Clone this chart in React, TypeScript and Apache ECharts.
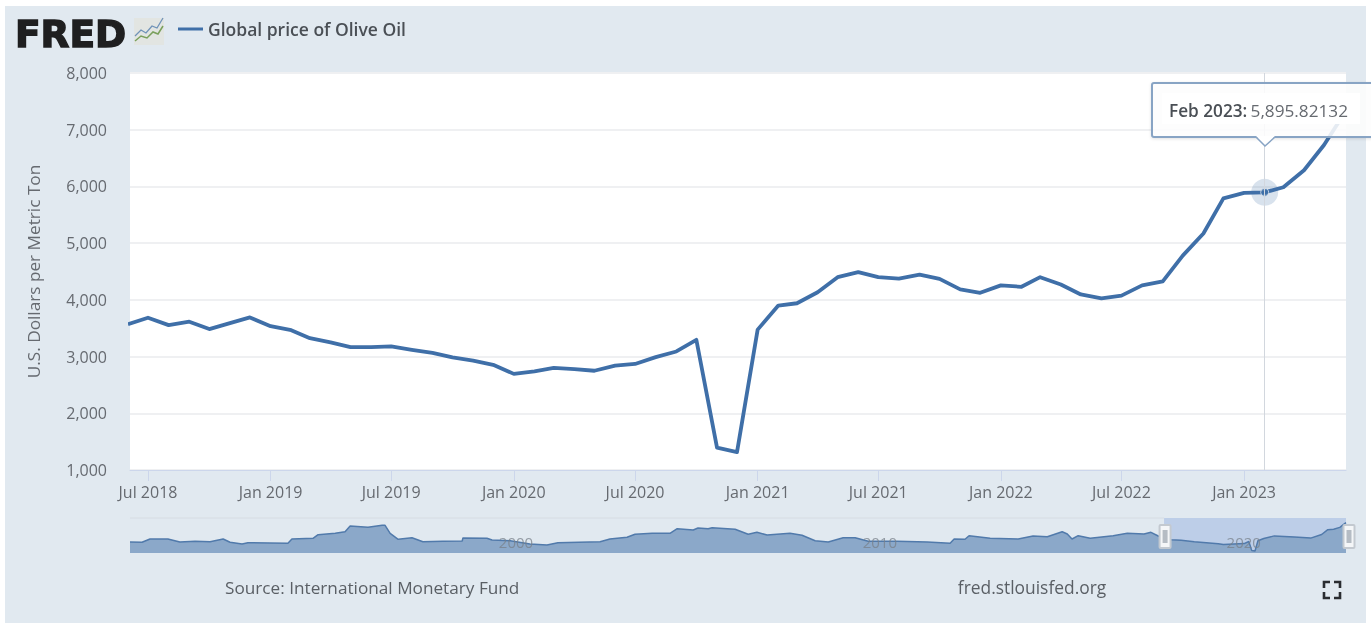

import React, { useEffect, useRef } from "react";
import * as echarts from "echarts";

const SERIES_NAME = "Global price of Olive Oil";
const months = [
  "2018-06","2018-07","2018-08","2018-09","2018-10","2018-11","2018-12",
  "2019-01","2019-02","2019-03","2019-04","2019-05","2019-06","2019-07","2019-08","2019-09","2019-10","2019-11","2019-12",
  "2020-01","2020-02","2020-03","2020-04","2020-05","2020-06","2020-07","2020-08","2020-09","2020-10","2020-11","2020-12",
  "2021-01","2021-02","2021-03","2021-04","2021-05","2021-06","2021-07","2021-08","2021-09","2021-10","2021-11","2021-12",
  "2022-01","2022-02","2022-03","2022-04","2022-05","2022-06","2022-07","2022-08","2022-09","2022-10","2022-11","2022-12",
  "2023-01","2023-02","2023-03","2023-04","2023-05","2023-06",
];
const prices = [
  3570,3685,3555,3615,3485,3590,3690,
  3535,3465,3325,3250,3165,3165,3180,3120,3065,2985,2930,2855,
  2695,2740,2800,2780,2750,2840,2870,2990,3090,3295,1395,1315,
  3475,3900,3940,4135,4400,4490,4400,4375,4445,4370,4185,4125,
  4255,4230,4400,4270,4095,4025,4075,4255,4325,4780,5170,5790,
  5885,5895.82132,5985,6285,6730,7300,
];
const tickDates = ["2018-07","2019-01","2019-07","2020-01","2020-07","2021-01","2021-07","2022-01","2022-07","2023-01"];
const monthNames = ["Jan","Feb","Mar","Apr","May","Jun","Jul","Aug","Sep","Oct","Nov","Dec"];
const viewStart = "2018-06-04";
const viewEnd = "2023-06-03";
const focusMonth = "2023-02";
const focusValue = 5895.82132;

const navYears = [
  1990,1990.33,1990.55,1991.04,1991.37,1991.79,1992.2,1992.56,1992.75,1993.08,1993.24,1994.34,1994.45,1995.03,1995.17,1995.64,1995.91,1996.05,1996.54,1996.93,
  1997.01,1997.15,1997.37,1997.75,1998.05,1998.6,1999.13,1999.15,1999.81,1999.95,2000.45,2000.99,2001.46,2001.76,2002.92,2003.19,2003.66,2003.88,2004.35,2004.84,
  2005.04,2005.48,2005.61,2005.89,2006,2006.63,2006.99,2007.23,2007.51,2008.14,2008.47,2008.83,2009.19,2009.6,2009.93,2010.29,2011.08,2011.91,2012.54,2012.65,
  2012.95,2013.06,2013.64,2014.41,2014.82,2015.21,2015.62,2015.76,2015.89,2016.06,2016.39,2017.02,2017.41,2017.87,2018.06,2018.26,2018.61,2018.89,2019.25,2019.91,
  2020.05,2020.62,2020.75,2020.83,2020.92,2021,2021.16,2021.45,2022,2022.45,2022.75,2022.92,2023.08,2023.25,2023.42,
];
const navPrices = [
  3213,3150,3843,3843,3213,3360,3276,3843,3150,2793,3066,2940,3843,3990,4746,5040,5376,6573,6300,6720,
  6720,5040,3780,4116,3276,3360,3423,4053,3990,3633,3486,2793,2583,3066,3276,3843,4200,4830,5040,5040,
  6006,5733,6153,6006,6216,5880,4830,5250,4683,5040,4620,3486,3213,4116,4116,3360,3360,3213,2940,3843,
  3780,4536,3990,3843,4473,4326,5376,4893,3843,4536,3990,4536,5040,4893,5250,4473,3703,3600,3262,2869,
  2705,2880,3305,1405,1323,3486,3950,4497,4268,4033,4790,5800,5896,6290,7300,
];
const navMin = 1990;
const navMax = 2023.42;
const selection = [2018.42, 2023.42];

const ts = (s: string) => {
  const p = s.split("-").map(Number);
  return Date.UTC(p[0], p[1] - 1, p[2] || 1);
};
const fmt = (v: number) => v.toLocaleString("en-US");
const FONT = "'Open Sans', sans-serif";

export default function App() {
  const ref = useRef<HTMLDivElement>(null);
  useEffect(() => {
    document.body.style.margin = "0";
    const chart = echarts.init(ref.current!, undefined, { renderer: "svg" });
    const option: any = {
      animation: false,
      backgroundColor: "transparent",
      textStyle: { fontFamily: FONT },
      legend: {
        data: [SERIES_NAME], left: 173, top: 15, icon: "rect", itemWidth: 25, itemHeight: 3, itemGap: 5,
        textStyle: { fontFamily: FONT, fontSize: 17.5, fontWeight: 600, color: "#4a4f55" },
      },
      grid: [
        { left: 130, right: 25, top: 73, height: 397, show: true, backgroundColor: "#ffffff", borderWidth: 0 },
        { left: 130, right: 25, top: 518, height: 35, show: false },
      ],
      xAxis: [
        {
          type: "value", gridIndex: 0, min: ts(viewStart), max: ts(viewEnd),
          axisLine: { show: true, lineStyle: { color: "#ccd6eb", width: 1 } },
          axisTick: { show: true, length: 11, lineStyle: { color: "#ccd6eb" }, customValues: tickDates.map(ts) },
          axisLabel: {
            customValues: tickDates.map(ts), margin: 14, fontSize: 16, color: "#666a70", fontFamily: FONT,
            formatter: (v: number) => { const d = new Date(v); return monthNames[d.getUTCMonth()] + " " + d.getUTCFullYear(); },
          },
          splitLine: { show: false },
        },
        {
          type: "value", gridIndex: 1, min: navMin, max: navMax, interval: 10, z: 5,
          axisLine: { show: false }, axisTick: { show: false }, splitLine: { show: false },
          axisLabel: {
            inside: true, margin: 4, fontSize: 15, color: "rgba(120,128,138,0.75)", align: "left", padding: [0, 0, 0, 5],
            showMinLabel: false, showMaxLabel: false, formatter: (v: number) => String(v), fontFamily: FONT,
          },
        },
      ],
      yAxis: [
        {
          type: "value", gridIndex: 0, min: 1000, max: 8000, interval: 1000,
          name: "U.S. Dollars per Metric Ton", nameLocation: "middle", nameGap: 88,
          nameTextStyle: { fontSize: 17.2, color: "#666a70", fontFamily: FONT },
          axisLine: { show: false }, axisTick: { show: false },
          axisLabel: { margin: 23, fontSize: 16, color: "#666a70", fontFamily: FONT, formatter: (v: number) => fmt(v) },
          splitLine: { show: true, lineStyle: { color: "#eff0f2", width: 2 } },
        },
        { type: "value", gridIndex: 1, min: 903, max: 8253, show: false, splitLine: { show: false } },
      ],
      series: [
        {
          name: SERIES_NAME, type: "line", xAxisIndex: 0, yAxisIndex: 0, showSymbol: false, z: 3,
          data: months.map((m, i) => [ts(m), prices[i]]),
          lineStyle: { color: "#3f6fa8", width: 3.8, join: "round" }, itemStyle: { color: "#3f6fa8" },
          markLine: {
            silent: true, symbol: "none", label: { show: false },
            lineStyle: { color: "#d2d7de", width: 1, type: "solid" },
            data: [{ xAxis: ts(focusMonth) }],
          },
        },
        {
          name: "halo", type: "scatter", xAxisIndex: 0, yAxisIndex: 0, symbolSize: 27, z: 2, silent: true,
          data: [[ts(focusMonth), focusValue]],
          itemStyle: { color: "rgba(69,114,167,0.26)" },
        },
        {
          name: "focus", type: "scatter", xAxisIndex: 0, yAxisIndex: 0, symbolSize: 8, z: 4, silent: true,
          data: [[ts(focusMonth), focusValue]],
          itemStyle: { color: "#3f6fa8", borderColor: "#dfe7f0", borderWidth: 1 },
        },
        {
          name: "navigator", type: "line", xAxisIndex: 1, yAxisIndex: 1, showSymbol: false, z: 2, silent: true,
          data: navYears.map((y, i) => [y, navPrices[i]]),
          lineStyle: { color: "#517aab", width: 1.5 },
          areaStyle: { color: "#8ba8c9", opacity: 1 },
          markArea: {
            silent: true, itemStyle: { color: "rgba(96,136,212,0.28)" },
            data: [[{ xAxis: selection[0], yAxis: 903 }, { xAxis: selection[1], yAxis: 8253 }]],
          },
        },
      ],
    };
    chart.setOption(option);

    const handleX = selection.map((y) => chart.convertToPixel({ xAxisIndex: 1 }, y) as number);
    const handle = (cx: number) => ({
      type: "group", z: 50,
      children: [
        { type: "rect", z: 50, shape: { x: cx - 5.5, y: 525, width: 11, height: 23, r: 1 }, style: { fill: "#f4f6f8", stroke: "#c3c9d0", lineWidth: 2 } },
        { type: "rect", z: 51, shape: { x: cx - 2.5, y: 530, width: 5, height: 13 }, style: { fill: "#b5bcc4" } },
      ],
    });
    const corner = (pts: number[][]) => ({ type: "polyline", z: 50, shape: { points: pts }, style: { stroke: "#2a2d31", lineWidth: 2.6, fill: "none" } });
    chart.setOption({
      graphic: [
        { type: "text", z: 50, x: 15, y: 15, style: { text: "FRED", font: "bold 37.5px 'DejaVu Sans'", fill: "#1f1f20", stroke: "#1f1f20", lineWidth: 1.4 } },
        { type: "rect", z: 50, shape: { x: 134, y: 18, width: 30, height: 27 }, style: { fill: "#e2e5e2" } },
        { type: "polyline", z: 51, shape: { points: [[135, 36], [141, 30], [146, 33], [152, 26], [157, 28], [163, 18]] }, style: { stroke: "#6f92b8", lineWidth: 1.3, fill: "none" } },
        { type: "polyline", z: 51, shape: { points: [[135, 41], [141, 36], [147, 38], [153, 32], [158, 34], [163, 26]] }, style: { stroke: "#7aa05c", lineWidth: 1.5, fill: "none" } },
        { type: "line", z: 50, shape: { x1: 130, y1: 518, x2: handleX[0], y2: 518 }, style: { stroke: "#d6dce3", lineWidth: 1 } },
        handle(handleX[0] + 1),
        handle(handleX[1] + 3),
        { type: "text", z: 50, x: 225, y: 587, style: { text: "Source: International Monetary Fund", font: "17.2px 'Open Sans'", fill: "#5a5f65", verticalAlign: "middle" } },
        { type: "text", z: 50, x: 1032, y: 587, style: { text: "fred.stlouisfed.org", font: "17.4px 'Open Sans'", fill: "#5a5f65", align: "center", verticalAlign: "middle" } },
        corner([[1324, 588], [1324, 582], [1330, 582]]),
        corner([[1334, 582], [1340, 582], [1340, 588]]),
        corner([[1324, 592], [1324, 598], [1330, 598]]),
        corner([[1334, 598], [1340, 598], [1340, 592]]),
        { type: "rect", z: 60, shape: { x: 1152, y: 83, width: 230, height: 54, r: 2 }, style: { fill: "rgba(255,255,255,0.86)", stroke: "#88a4c4", lineWidth: 2, shadowBlur: 3, shadowColor: "rgba(0,0,0,0.12)", shadowOffsetY: 1 } },
        { type: "rect", z: 60, shape: { x: 1162, y: 93, width: 198, height: 31 }, style: { fill: "rgba(255,255,255,0.96)" } },
        { type: "polygon", z: 61, shape: { points: [[1256, 136], [1265, 146], [1275, 136]] }, style: { fill: "#ffffff", stroke: "none" } },
        { type: "polyline", z: 62, shape: { points: [[1256, 137], [1265, 146], [1275, 137]] }, style: { stroke: "#88a4c4", lineWidth: 1.5, fill: "none" } },
        {
          type: "text", z: 63, x: 1169, y: 110,
          style: {
            text: "{b|Feb 2023:} {v|" + focusValue.toLocaleString("en-US", { maximumFractionDigits: 5 }) + "}",
            verticalAlign: "middle",
            rich: {
              b: { fontFamily: FONT, fontSize: 17.2, fontWeight: 600, fill: "#4a4f55" },
              v: { fontFamily: FONT, fontSize: 17.2, fill: "#666a70" },
            },
          },
        },
      ],
    });
    return () => chart.dispose();
  }, []);
  return (
    <div style={{ position: "relative", width: 1371, height: 623, background: "#ffffff", overflow: "hidden" }}>
      <div style={{ position: "absolute", left: 5, top: 6, width: 1361, height: 617, background: "#e1e9f0" }} />
      <div ref={ref} style={{ position: "absolute", left: 0, top: 0, width: 1371, height: 623, filter: "blur(0.4px)" }} />
    </div>
  );
}
